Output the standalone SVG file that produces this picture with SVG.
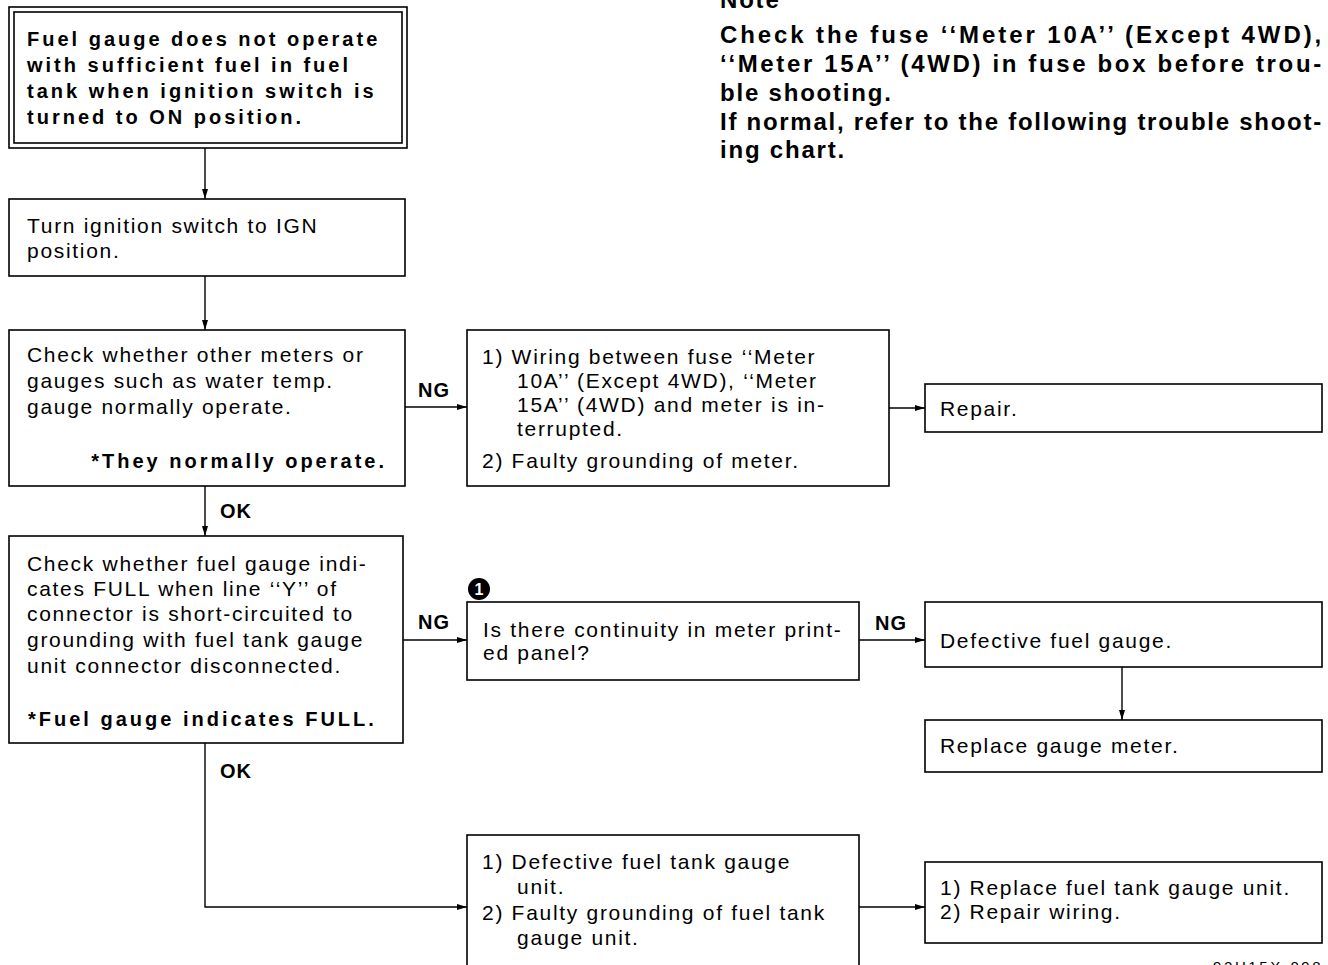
<svg xmlns="http://www.w3.org/2000/svg" width="1328" height="965" viewBox="0 0 1328 965">
<style>
.bx{fill:#fff;stroke:#000;stroke-width:1.6}
.ln{fill:none;stroke:#000;stroke-width:1.4}
.t{font-family:"Liberation Sans",Arial,sans-serif;font-size:21px;letter-spacing:1.7px;fill:#000}
.tb{font-family:"Liberation Sans",Arial,sans-serif;font-size:20px;font-weight:bold;letter-spacing:3px;fill:#000}
.lab{font-family:"Liberation Sans",Arial,sans-serif;font-size:20px;font-weight:bold;letter-spacing:1px;fill:#000}
.note{font-family:"Liberation Sans",Arial,sans-serif;font-size:24px;font-weight:bold;letter-spacing:1.8px;fill:#000}
.code{font-family:"Liberation Sans",Arial,sans-serif;font-size:15px;letter-spacing:2.6px;fill:#000}
</style>
<defs>
<marker id="ah" viewBox="0 0 10 6" refX="10" refY="3" markerWidth="10" markerHeight="6" markerUnits="userSpaceOnUse" orient="auto">
<path d="M0,0 L10,3 L0,6 Z" fill="#000"/>
</marker>
</defs>
<rect width="1328" height="965" fill="#fff"/>

<g id="note">
<text class="note" x="720" y="8">Note</text>
<text class="note" x="720" y="43" textLength="603" lengthAdjust="spacing">Check the fuse ‘‘Meter 10A’’ (Except 4WD),</text>
<text class="note" x="720" y="72" textLength="603" lengthAdjust="spacing">‘‘Meter 15A’’ (4WD) in fuse box before trou-</text>
<text class="note" x="720" y="101">ble shooting.</text>
<text class="note" x="720" y="130" textLength="603" lengthAdjust="spacing">If normal, refer to the following trouble shoot-</text>
<text class="note" x="720" y="158">ing chart.</text>
</g>

<g id="connectors">
<line class="ln" x1="205" y1="148" x2="205" y2="199" marker-end="url(#ah)"/>
<line class="ln" x1="205" y1="276" x2="205" y2="330" marker-end="url(#ah)"/>
<line class="ln" x1="405" y1="407" x2="467" y2="407" marker-end="url(#ah)"/>
<line class="ln" x1="889" y1="408" x2="925" y2="408" marker-end="url(#ah)"/>
<line class="ln" x1="205" y1="486" x2="205" y2="536" marker-end="url(#ah)"/>
<line class="ln" x1="403" y1="640" x2="467" y2="640" marker-end="url(#ah)"/>
<line class="ln" x1="859" y1="640" x2="925" y2="640" marker-end="url(#ah)"/>
<line class="ln" x1="1122" y1="667" x2="1122" y2="720" marker-end="url(#ah)"/>
<polyline class="ln" points="205,743 205,907 467,907" marker-end="url(#ah)"/>
<line class="ln" x1="859" y1="907" x2="925" y2="907" marker-end="url(#ah)"/>
<text class="lab" x="418" y="397">NG</text>
<text class="lab" x="220" y="518">OK</text>
<text class="lab" x="418" y="629">NG</text>
<text class="lab" x="875" y="630">NG</text>
<text class="lab" x="220" y="778">OK</text>
</g>

<g id="start">
<rect class="bx" x="9" y="7" width="398" height="141"/>
<rect class="bx" x="14" y="12" width="388" height="131"/>
<text class="tb" x="27" y="46">Fuel gauge does not operate</text>
<text class="tb" x="27" y="72">with sufficient fuel in fuel</text>
<text class="tb" x="27" y="98">tank when ignition switch is</text>
<text class="tb" x="27" y="124">turned to ON position.</text>
</g>

<g id="turn-ign">
<rect class="bx" x="9" y="199" width="396" height="77"/>
<text class="t" x="27" y="233">Turn ignition switch to IGN</text>
<text class="t" x="27" y="258">position.</text>
</g>

<g id="check-meters">
<rect class="bx" x="9" y="330" width="396" height="156"/>
<text class="t" x="27" y="362">Check whether other meters or</text>
<text class="t" x="27" y="388">gauges such as water temp.</text>
<text class="t" x="27" y="414">gauge normally operate.</text>
<text class="tb" x="387" y="468" text-anchor="end">*They normally operate.</text>
</g>

<g id="wiring">
<rect class="bx" x="467" y="330" width="422" height="156"/>
<text class="t" x="482" y="364">1) Wiring between fuse ‘‘Meter</text>
<text class="t" x="517" y="388">10A’’ (Except 4WD), ‘‘Meter</text>
<text class="t" x="517" y="412">15A’’ (4WD) and meter is in-</text>
<text class="t" x="517" y="436">terrupted.</text>
<text class="t" x="482" y="468">2) Faulty grounding of meter.</text>
</g>

<g id="repair">
<rect class="bx" x="925" y="384" width="397" height="48"/>
<text class="t" x="940" y="416">Repair.</text>
</g>

<g id="check-full">
<rect class="bx" x="9" y="536" width="394" height="207"/>
<text class="t" x="27" y="571">Check whether fuel gauge indi-</text>
<text class="t" x="27" y="596">cates FULL when line ‘‘Y’’ of</text>
<text class="t" x="27" y="621">connector is short-circuited to</text>
<text class="t" x="27" y="647">grounding with fuel tank gauge</text>
<text class="t" x="27" y="673">unit connector disconnected.</text>
<text class="tb" x="28" y="726">*Fuel gauge indicates FULL.</text>
</g>

<g id="continuity">
<circle cx="479" cy="589" r="11" fill="#000"/>
<text x="479" y="595" text-anchor="middle" font-family="Liberation Sans, Arial, sans-serif" font-size="16" font-weight="bold" fill="#fff">1</text>
<rect class="bx" x="467" y="602" width="392" height="78"/>
<text class="t" x="483" y="637">Is there continuity in meter print-</text>
<text class="t" x="483" y="660">ed panel?</text>
</g>

<g id="defective-gauge">
<rect class="bx" x="925" y="602" width="397" height="65"/>
<text class="t" x="940" y="648">Defective fuel gauge.</text>
</g>

<g id="replace-meter">
<rect class="bx" x="925" y="720" width="397" height="52"/>
<text class="t" x="940" y="753">Replace gauge meter.</text>
</g>

<g id="tank-unit">
<rect class="bx" x="467" y="835" width="392" height="150"/>
<text class="t" x="482" y="869">1) Defective fuel tank gauge</text>
<text class="t" x="517" y="894">unit.</text>
<text class="t" x="482" y="920">2) Faulty grounding of fuel tank</text>
<text class="t" x="517" y="945">gauge unit.</text>
</g>

<g id="replace-unit">
<rect class="bx" x="925" y="862" width="397" height="81"/>
<text class="t" x="940" y="895">1) Replace fuel tank gauge unit.</text>
<text class="t" x="940" y="919">2) Repair wiring.</text>
</g>

<text class="code" x="1213" y="972">92H15X-098</text>
</svg>
